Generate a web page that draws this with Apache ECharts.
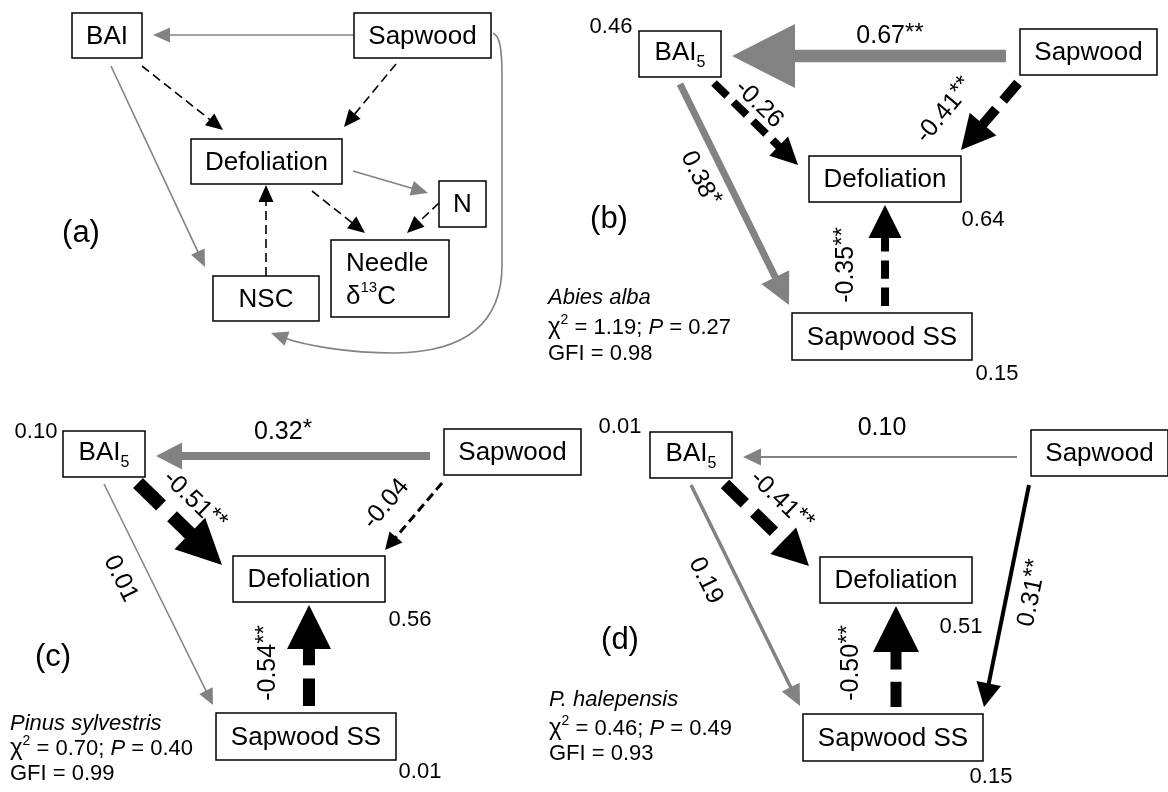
<!DOCTYPE html>
<html>
<head>
<meta charset="utf-8">
<script src="https://cdn.jsdelivr.net/npm/echarts@6/dist/echarts.min.js"></script>
<style>
  html, body { margin: 0; padding: 0; background: #ffffff; }
  #chart { width: 1168px; height: 792px; }
</style>
</head>
<body>
<div id="chart"></div>
<script>
// ---------------- data ----------------
const panelTags = ['(b)', '(c)', '(d)'];
const speciesNames = ['Abies alba', 'Pinus sylvestris', 'P. halepensis'];
const chiSquare = ['1.19', '0.70', '0.46'];
const pValue = ['0.27', '0.40', '0.49'];
const gfiValue = ['0.98', '0.99', '0.93'];

// standardized path coefficients per species (null = path not in model)
const sapwoodToBai = [0.67, 0.32, 0.10];
const baiToDefoliation = [-0.26, -0.51, -0.41];
const sapwoodToDefoliation = [-0.41, -0.04, null];
const baiToSapwoodSS = [0.38, 0.01, 0.19];
const sapwoodSSToDefoliation = [-0.35, -0.54, -0.50];
const sapwoodToSapwoodSS = [null, null, 0.31];

// significance marks
const sapwoodToBaiSig = ['**', '*', ''];
const baiToDefoliationSig = ['', '**', '**'];
const sapwoodToDefoliationSig = ['**', '', ''];
const baiToSapwoodSSSig = ['*', '', ''];
const sapwoodSSToDefoliationSig = ['**', '**', '**'];
const sapwoodToSapwoodSSSig = ['', '', '**'];

// explained variance of endogenous variables
const baiR2 = [0.46, 0.10, 0.01];
const defoliationR2 = [0.64, 0.56, 0.51];
const sapwoodSSR2 = [0.15, 0.01, 0.15];

// conceptual model (a): hypothesised sign of each path
const conceptPaths = ['Sapwood-BAI', 'BAI-Defoliation', 'Sapwood-Defoliation', 'BAI-NSC',
  'Defoliation-N', 'Defoliation-Needle', 'N-Needle', 'NSC-Defoliation', 'Sapwood-NSC'];
const conceptSigns = [1, -1, -1, 1, 1, -1, -1, -1, 1];

// ---------------- layout & styles ----------------
const FONT = '"Liberation Sans", Arial, Helvetica, sans-serif';
const GRAY = '#828282';
const BLACK = '#000000';
const BOX_FONT = 26;
const COEF_FONT = 25;
const NOTE_FONT = 22;

const panelOrigin = [[639, 31], [63, 431], [650, 432]];

const nodeBoxes = {
  bai: [0, 0, 82, 46],
  sapwood: [381, -2, 518, 44],
  defoliation: [170, 125, 322, 171],
  sapwoodSS: [153, 282, 333, 329]
};
const nodeText = { bai: 'BAI5', sapwood: 'Sapwood', defoliation: 'Defoliation', sapwoodSS: 'Sapwood SS' };

const pathKeys = ['sapwoodToBai', 'baiToDefoliation', 'sapwoodToDefoliation',
  'baiToSapwoodSS', 'sapwoodSSToDefoliation', 'sapwoodToSapwoodSS'];
const pathValues = { sapwoodToBai, baiToDefoliation, sapwoodToDefoliation,
  baiToSapwoodSS, sapwoodSSToDefoliation, sapwoodToSapwoodSS };
const pathSig = {
  sapwoodToBai: sapwoodToBaiSig, baiToDefoliation: baiToDefoliationSig,
  sapwoodToDefoliation: sapwoodToDefoliationSig, baiToSapwoodSS: baiToSapwoodSSSig,
  sapwoodSSToDefoliation: sapwoodSSToDefoliationSig, sapwoodToSapwoodSS: sapwoodToSapwoodSSSig
};
const pathGeometry = {
  sapwoodToBai: { from: [367, 25], to: [93, 25] },
  baiToDefoliation: { from: [75, 52], to: [159, 134] },
  sapwoodToDefoliation: { from: [379, 52], to: [322, 119] },
  baiToSapwoodSS: { from: [41, 53], to: [150, 274] },
  sapwoodSSToDefoliation: { from: [246, 275], to: [246, 174] },
  sapwoodToSapwoodSS: { from: [379, 53], to: [334, 275] }
};
const pathLabelAt = {
  sapwoodToBai: [[251, 4], [220, 0], [232, -5]],
  baiToDefoliation: [[121, 72], [132, 69], [132, 68]],
  sapwoodToDefoliation: [[305, 79], [322, 72], null],
  baiToSapwoodSS: [[62, 147], [59, 147], [57, 148]],
  sapwoodSSToDefoliation: [[206, 234], [204, 232], [200, 231]],
  sapwoodToSapwoodSS: [null, null, [381, 161]]
};
// [shaft width, head width, head length]
const pathStroke = {
  sapwoodToBai: [[12.5, 64, 63], [8, 27, 26], [2, 17, 18]],
  baiToDefoliation: [[8, 27, 27], [14, 44, 45], [12, 37, 36]],
  sapwoodToDefoliation: [[10, 35, 34], [3, 17, 17], null],
  baiToSapwoodSS: [[7, 31, 31], [1.5, 15, 16], [3.5, 20, 21]],
  sapwoodSSToDefoliation: [[8, 33, 33], [12, 44, 44], [11, 46, 46]],
  sapwoodToSapwoodSS: [null, null, [4, 25, 24]]
};
const solidBlackPaths = { sapwoodToSapwoodSS: true };

const r2At = {
  bai: [[-28, -4], [-27, 1], [-30, -5]],
  defoliation: [[344, 189], [347, 189], [311, 195]],
  sapwoodSS: [[358, 343], [357, 341], [341, 345]]
};
const tagAt = [[609, 219], [53, 657], [620, 640]];
const statsAt = [[548, [296, 326, 352]], [10, [722, 747, 772]], [549, [698, 727, 752]]];

// conceptual model (a)
const conceptBoxes = [
  { text: 'BAI', box: [72, 13, 142, 58] },
  { text: 'Sapwood', box: [354, 13, 491, 58] },
  { text: 'Defoliation', box: [191, 139, 342, 184] },
  { text: 'N', box: [439, 181, 486, 227] },
  { text: 'Needle', box: [331, 240, 449, 317] },
  { text: 'NSC', box: [213, 276, 319, 321] }
];
const conceptGeometry = [
  { from: [354, 35], to: [153, 35] },
  { from: [142, 66], to: [223, 130] },
  { from: [396, 64], to: [344, 127] },
  { from: [111, 66], to: [205, 267] },
  { from: [353, 171], to: [428, 193] },
  { from: [312, 191], to: [365, 233] },
  { from: [439, 203], to: [407, 233] },
  { from: [266, 276], to: [266, 185] }
];
// curved Sapwood -> NSC path: start point, then cubic segments [cp1, cp2, end]
const conceptCurve = {
  start: [493, 33],
  segments: [
    [[500, 36], [502, 50], [502, 75]],
    [[502, 150], [502, 200], [502, 265]],
    [[502, 320], [470, 352], [395, 353]],
    [[345, 353], [305, 345], [284, 338]]
  ],
  tip: [271, 333]
};

function fmt(v) { return v.toFixed(2); }

// ---------------- build marks ----------------
const boxItems = [];   // [x0, y0, x1, y1]
const boxMeta = [];
conceptBoxes.forEach(b => { boxItems.push(b.box.slice()); boxMeta.push({ text: b.text }); });
for (let p = 0; p < 3; p++) {
  const o = panelOrigin[p];
  Object.keys(nodeBoxes).forEach(k => {
    const b = nodeBoxes[k];
    boxItems.push([o[0] + b[0], o[1] + b[1], o[0] + b[2], o[1] + b[3]]);
    boxMeta.push({ text: nodeText[k] });
  });
}

const edgeItems = [];  // [x1, y1, x2, y2, labelX, labelY]
const edgeMeta = [];
conceptGeometry.forEach((g, i) => {
  edgeItems.push([g.from[0], g.from[1], g.to[0], g.to[1], NaN, NaN]);
  const pos = conceptSigns[i] > 0;
  edgeMeta.push({ color: pos ? GRAY : BLACK, dashed: !pos, w: 1.6, hw: 15, hl: 17, label: null });
});
for (let p = 0; p < 3; p++) {
  const o = panelOrigin[p];
  pathKeys.forEach(k => {
    const v = pathValues[k][p];
    if (v === null) return;
    const g = pathGeometry[k], lp = pathLabelAt[k][p], st = pathStroke[k][p];
    edgeItems.push([o[0] + g.from[0], o[1] + g.from[1], o[0] + g.to[0], o[1] + g.to[1],
      o[0] + lp[0], o[1] + lp[1]]);
    const pos = v > 0;
    const black = !pos || solidBlackPaths[k];
    edgeMeta.push({
      color: black ? BLACK : GRAY, dashed: !pos, w: st[0], hw: st[1], hl: st[2],
      label: { num: fmt(v), sig: pathSig[k][p] }
    });
  });
}

const textItems = [];  // [x, y]
const textMeta = [];
for (let p = 0; p < 3; p++) {
  const o = panelOrigin[p];
  [['bai', baiR2], ['defoliation', defoliationR2], ['sapwoodSS', sapwoodSSR2]].forEach(([k, arr]) => {
    const at = r2At[k][p];
    textItems.push([o[0] + at[0], o[1] + at[1]]);
    textMeta.push({ text: fmt(arr[p]), size: 22, align: 'center' });
  });
  textItems.push(tagAt[p].slice());
  textMeta.push({ text: panelTags[p], size: 31, align: 'center' });
  const s = statsAt[p];
  textItems.push([s[0], s[1][0]]);
  textMeta.push({ text: '{i|' + speciesNames[p] + '}', size: NOTE_FONT, align: 'left' });
  textItems.push([s[0], s[1][1]]);
  textMeta.push({ text: '{c|χ}{p|2}{t| = ' + chiSquare[p] + '; }{i|P}{t| = ' + pValue[p] + '}', size: NOTE_FONT, align: 'left' });
  textItems.push([s[0], s[1][2]]);
  textMeta.push({ text: '{t|GFI = ' + gfiValue[p] + '}', size: NOTE_FONT, align: 'left' });
}
textItems.push([81, 233]);
textMeta.push({ text: '(a)', size: 31, align: 'center' });
// Needle δ13C (two lines, left aligned inside the box)
textItems.push([346, 264]);
textMeta.push({ text: 'Needle', size: BOX_FONT, align: 'left' });
textItems.push([346, 295]);
textMeta.push({ text: '{t|δ}{p|13}{t|C}', size: BOX_FONT, align: 'left', sup: 15 });

// ---------------- render helpers ----------------
function richFor(size, supSize) {
  return {
    t: { fontSize: size, fontFamily: FONT, fill: '#000', verticalAlign: 'bottom', lineHeight: size + 4 },
    c: { fontSize: size + 2, fontFamily: FONT, fill: '#000', verticalAlign: 'bottom', lineHeight: size + 4 },
    i: { fontSize: size, fontFamily: FONT, fontStyle: 'italic', fill: '#000', verticalAlign: 'bottom', lineHeight: size + 4 },
    p: { fontSize: supSize || Math.round(size * 0.64), fontFamily: FONT, fill: '#000', verticalAlign: 'top', lineHeight: Math.round(size * 0.62) }
  };
}

function renderBox(params, api) {
  const m = boxMeta[params.dataIndex];
  const a = api.coord([api.value(0), api.value(1)]);
  const b = api.coord([api.value(2), api.value(3)]);
  const children = [{
    type: 'rect',
    shape: { x: a[0], y: a[1], width: b[0] - a[0], height: b[1] - a[1] },
    style: { fill: '#fff', stroke: '#000', lineWidth: 1.5 }
  }];
  if (m.text !== 'Needle') {
    const cx = (a[0] + b[0]) / 2, cy = (a[1] + b[1]) / 2;
    let style;
    if (m.text === 'BAI5') {
      style = {
        text: '{m|BAI}{s|5}', align: 'center', verticalAlign: 'middle',
        rich: {
          m: { fontSize: BOX_FONT, fontFamily: FONT, fill: '#000', verticalAlign: 'top', lineHeight: 31 },
          s: { fontSize: 16, fontFamily: FONT, fill: '#000', verticalAlign: 'bottom', lineHeight: 12 }
        }
      };
    } else {
      style = { text: m.text, fontSize: BOX_FONT, fontFamily: FONT, fill: '#000', align: 'center', verticalAlign: 'middle' };
    }
    children.push({ type: 'text', x: cx, y: cy + 1, style });
  }
  return { type: 'group', children };
}

function arrowParts(a, b, m) {
  const dx = b[0] - a[0], dy = b[1] - a[1];
  const len = Math.hypot(dx, dy);
  const ux = dx / len, uy = dy / len, nx = -uy, ny = ux;
  const base = [b[0] - ux * m.hl, b[1] - uy * m.hl];
  const dash = m.dashed ? [Math.max(9, m.w * 2.3), Math.max(5, m.w * 1.1)] : null;
  return [
    {
      type: 'line',
      shape: { x1: a[0], y1: a[1], x2: base[0] + ux * 2, y2: base[1] + uy * 2 },
      style: { stroke: m.color, lineWidth: m.w, lineDash: dash, lineCap: 'butt' }
    },
    {
      type: 'polygon',
      shape: { points: [b, [base[0] + nx * m.hw / 2, base[1] + ny * m.hw / 2], [base[0] - nx * m.hw / 2, base[1] - ny * m.hw / 2]] },
      style: { fill: m.color }
    }
  ];
}

function renderEdge(params, api) {
  const m = edgeMeta[params.dataIndex];
  const a = api.coord([api.value(0), api.value(1)]);
  const b = api.coord([api.value(2), api.value(3)]);
  const children = arrowParts(a, b, m);
  if (m.label) {
    const lp = api.coord([api.value(4), api.value(5)]);
    let ang = Math.atan2(b[1] - a[1], b[0] - a[0]);
    if (ang > Math.PI / 2 + 1e-6) ang -= Math.PI;
    if (ang < -Math.PI / 2 - 1e-6) ang += Math.PI;
    children.push({
      type: 'text', x: lp[0], y: lp[1], rotation: -ang,
      style: {
        text: '{n|' + m.label.num + '}' + (m.label.sig ? '{s|' + m.label.sig + '}' : ''),
        align: 'center', verticalAlign: 'middle',
        rich: {
          n: { fontSize: COEF_FONT, fontFamily: FONT, fill: '#000', verticalAlign: 'bottom', lineHeight: 28 },
          s: { fontSize: 24, fontFamily: FONT, fill: '#000', verticalAlign: 'top', lineHeight: 24 }
        }
      }
    });
  }
  return { type: 'group', children };
}

function renderText(params, api) {
  const m = textMeta[params.dataIndex];
  const p = api.coord([api.value(0), api.value(1)]);
  const style = m.text.indexOf('{') >= 0
    ? { text: m.text, align: m.align, verticalAlign: 'middle', rich: richFor(m.size, m.sup) }
    : { text: m.text, fontSize: m.size, fontFamily: FONT, fill: '#000', align: m.align, verticalAlign: 'middle' };
  return { type: 'text', x: p[0], y: p[1], style };
}

function renderCurve(params, api) {
  const c = conceptCurve;
  const children = [];
  let prev = api.coord(c.start);
  c.segments.forEach(seg => {
    const p1 = api.coord(seg[0]), p2 = api.coord(seg[1]), p3 = api.coord(seg[2]);
    children.push({
      type: 'bezierCurve',
      shape: { x1: prev[0], y1: prev[1], cpx1: p1[0], cpy1: p1[1], cpx2: p2[0], cpy2: p2[1], x2: p3[0], y2: p3[1] },
      style: { stroke: GRAY, lineWidth: 1.6, fill: null }
    });
    prev = p3;
  });
  const last = c.segments[c.segments.length - 1];
  const from = api.coord(last[1]);
  const tip = api.coord(c.tip);
  const head = arrowParts(from, tip, { color: GRAY, dashed: false, w: 0.01, hw: 15, hl: 17 });
  children.push(head[1]);
  return { type: 'group', children };
}

// ---------------- chart ----------------
const chart = echarts.init(document.getElementById('chart'), null, { renderer: 'canvas' });
chart.setOption({
  backgroundColor: '#ffffff',
  animation: false,
  grid: { left: 0, right: 0, top: 0, bottom: 0 },
  xAxis: { type: 'value', min: 0, max: 1168, show: false },
  yAxis: { type: 'value', min: 0, max: 792, inverse: true, show: false },
  tooltip: { show: false },
  series: [
    { type: 'custom', name: 'paths', renderItem: renderEdge, data: edgeItems, clip: false, silent: true, z: 2 },
    { type: 'custom', name: 'curvedPath', renderItem: renderCurve, data: [[conceptCurve.start[0], conceptCurve.start[1]]], clip: false, silent: true, z: 2 },
    { type: 'custom', name: 'variables', renderItem: renderBox, data: boxItems, clip: false, silent: true, z: 3 },
    { type: 'custom', name: 'annotations', renderItem: renderText, data: textItems, clip: false, silent: true, z: 4 }
  ]
});
</script>
</body>
</html>
